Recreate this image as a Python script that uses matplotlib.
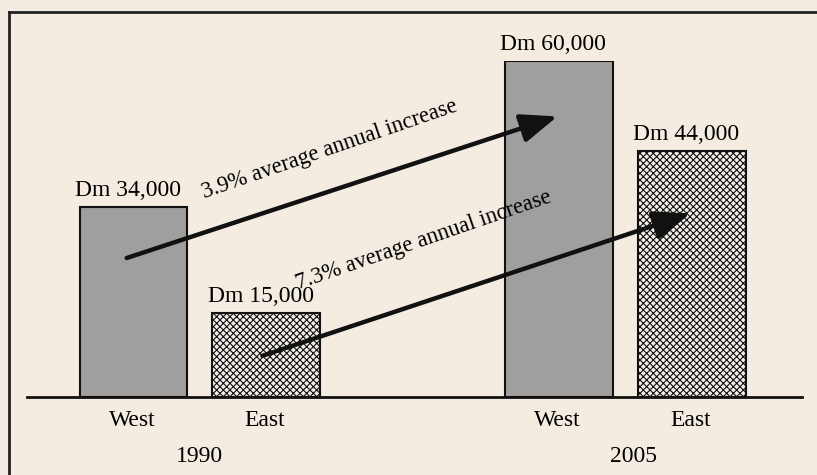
import matplotlib.pyplot as plt
from matplotlib.lines import Line2D

# values (Dm)
years = ['1990', '2005']
regions = ['West', 'East']
values_1990 = [34000, 15000]
values_2005 = [60000, 44000]
value_labels = ['Dm 34,000', 'Dm 15,000', 'Dm 60,000', 'Dm 44,000']
growth_labels = ['3.9% average annual increase', '7.3% average annual increase']

bg = '#f4ece0'
plt.rcParams['font.family'] = ['Liberation Serif', 'DejaVu Serif']
plt.rcParams['hatch.linewidth'] = 0.8
plt.rcParams['hatch.color'] = '#333333'


def main():
    fig = plt.figure(figsize=(8.17, 4.75), dpi=100, facecolor=bg)
    ax = fig.add_axes([27 / 817, 78 / 475, 775 / 817, 336 / 475])
    ax.set_facecolor('none')

    group_pos = [0.5, 3.7]
    xs = [group_pos[0] - 0.5, group_pos[0] + 0.5, group_pos[1] - 0.5, group_pos[1] + 0.5]
    vals = values_1990 + values_2005
    colors = ['#a09f9d', '#f2ede6', '#a09f9d', '#f2ede6']
    hatches = [None, 'xxxxx', None, 'xxxxx']

    for x, v, c, h, lab in zip(xs, vals, colors, hatches, value_labels):
        ax.bar(x, v, width=0.81, color=c, edgecolor='#111111', linewidth=1.5, hatch=h, zorder=2)
        ax.annotate(lab, (x, v), xytext=(-4, 4), textcoords='offset points',
                    ha='center', va='bottom', fontsize=17)

    ax.set_xlim(-0.8, 5.03)
    ax.set_ylim(0, 60000)
    ax.axhline(0, color='#111111', lw=2, zorder=3, clip_on=False)

    # region and year labels under the axis
    for x, r in zip(xs, regions * 2):
        ax.annotate(r, (x, 0), xytext=(-1, -17), textcoords='offset points',
                    ha='center', va='center', fontsize=17, annotation_clip=False)
    for g, y in zip(group_pos, years):
        ax.annotate(y, (g, 0), xytext=(0 if y == '1990' else 6, -43), textcoords='offset points',
                    ha='center', va='center', fontsize=17, annotation_clip=False)

    # growth arrows, from old bar to new bar
    starts = [(xs[0] - 0.05, vals[0] * 0.73), (xs[1] - 0.03, vals[1] * 0.49)]
    ends = [(xs[2] - 0.01, vals[2] * 0.835), (xs[3] - 0.01, vals[3] * 0.745)]
    for (x0, y0), (x1, y1) in zip(starts, ends):
        ax.annotate('', xy=(x1, y1), xytext=(x0, y0),
                    arrowprops=dict(arrowstyle='-|>,head_length=1.4,head_width=0.55',
                                    lw=3.2, color='#111111', mutation_scale=16,
                                    shrinkA=0, shrinkB=0), zorder=4)

    ax.text(1.48, 44300, growth_labels[0], rotation=19, ha='center', va='center',
            fontsize=16.3, rotation_mode='anchor', zorder=5)
    ax.text(2.18, 27900, growth_labels[1], rotation=19, ha='center', va='center',
            fontsize=16.3, rotation_mode='anchor', zorder=5)

    for s in ax.spines.values():
        s.set_visible(False)
    ax.set_xticks([])
    ax.set_yticks([])

    # frame: top and left only
    fig.add_artist(Line2D([9 / 817, 1], [1 - 12 / 475, 1 - 12 / 475], color='#222222', lw=2))
    fig.add_artist(Line2D([9 / 817, 9 / 817], [0, 1 - 12 / 475], color='#222222', lw=2))

    fig.savefig('out.png', dpi=100, facecolor=bg)


if __name__ == '__main__':
    main()
